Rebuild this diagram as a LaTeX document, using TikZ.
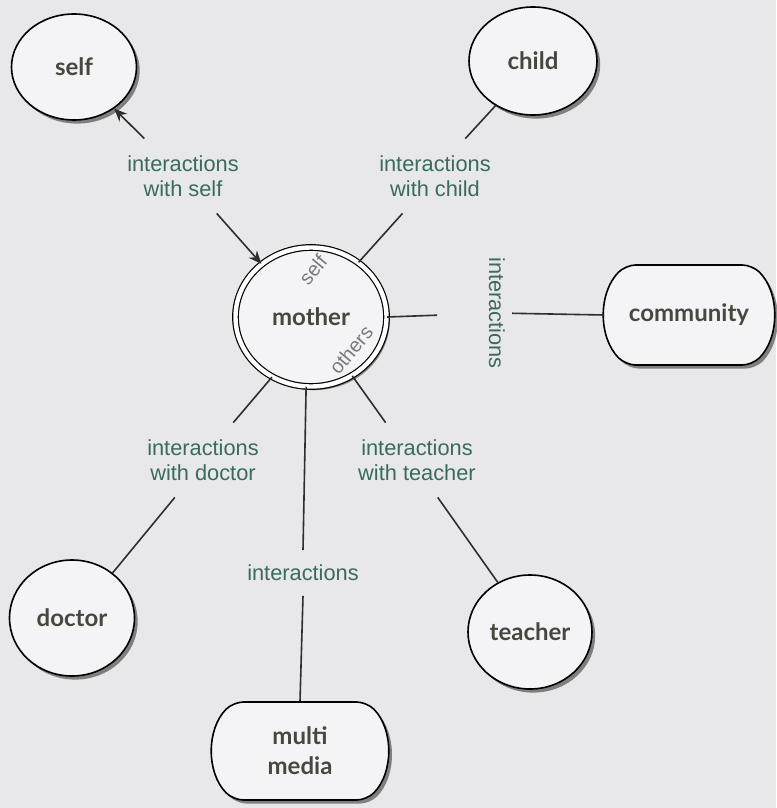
\documentclass[tikz,border=0pt]{standalone}
\usepackage{fontspec}
\setmainfont{Liberation Sans}
\newfontfamily\nodefont{Lato}
\newfontfamily\lblfont{Liberation Sans}
\usetikzlibrary{shapes.geometric,shapes.misc,shadows,arrows.meta}
\definecolor{bg}{HTML}{E8E8EA}
\definecolor{nodefill}{HTML}{F4F4F6}
\definecolor{lbl}{HTML}{3A6B5C}
\definecolor{ntext}{HTML}{46483F}
\definecolor{innertext}{HTML}{7A7A7A}
\definecolor{ln}{HTML}{2E2E2E}
\begin{document}
\begin{tikzpicture}[x=0.5pt,y=-0.5pt,
  shad/.style={drop shadow={shadow xshift=1.6pt,shadow yshift=-1.8pt,opacity=0.45,fill=black}},
  nfont/.style={font=\nodefont\bfseries\fontsize{12}{15}\selectfont,text=ntext},
  circ/.style={ellipse,draw=black,line width=0.8pt,fill=nodefill,shad,nfont,inner sep=0pt},
  box/.style={rounded rectangle,rounded rectangle arc length=90,rounded corners=5pt,draw=black,line width=0.8pt,fill=nodefill,shad,nfont,align=center,inner sep=0pt},
  lab/.style={font=\lblfont\fontsize{10.9}{12.5}\selectfont,text=lbl,align=center,inner sep=0pt},
  labtwo/.style={lab,minimum height=37pt,minimum width=62pt},
  intext/.style={font=\lblfont\fontsize{10}{12}\selectfont,text=innertext,rotate=50,inner sep=0pt},
  conn/.style={draw=ln,line width=0.8pt},
  arr/.style={conn,-{Stealth[length=6.5pt,width=5.5pt]}}
]
\fill[bg] (0,0) rectangle (776,808);
\useasboundingbox (0,0) rectangle (776,808);

% main nodes
\node[circ,minimum width=62.5pt,minimum height=53pt] (self) at (74,67) {self};
\node[circ,minimum width=64pt,minimum height=54pt] (child) at (533,61) {child};
\node[circ,minimum width=62.5pt,minimum height=58pt] (doctor) at (72,618) {doctor};
\node[circ,minimum width=62pt,minimum height=57pt] (teacher) at (530,632) {teacher};
\node[circ,double=white,double distance=2.2pt,line width=0.6pt,minimum width=75.5pt,minimum height=69.5pt] (mother) at (311,317) {mother};
\node[box,minimum width=84pt,minimum height=50pt] (community) at (689,315) {community};
\node[box,minimum width=87pt,minimum height=49pt] (media) at (300,751) {multi\\media};

% texts inside mother
\node[intext] (mself) at (313,270) {self};
\node[intext] (mothers) at (351,350) {others};

% labels
\node[labtwo] (Lself) at (183,176) {interactions\\with self};
\node[labtwo] (Lchild) at (435,176) {interactions\\with child};
\node[labtwo] (Ldoctor) at (203,460) {interactions\\with doctor};
\node[labtwo] (Lteacher) at (417,460) {interactions\\with teacher};
\node[lab,minimum height=22.5pt] (Lmedia) at (303,573) {interactions};
\node[lab,rotate=-90] (Lcomm) at (497,313) {interactions};

% connectors
\draw[arr] (Lself.136) -- (self.-46);
\draw[arr] (Lself.-48) -- (mother.133);
\draw[conn] (Lchild.51) -- (child.-130);
\draw[conn] (Lchild.-131) -- (mother.49);
\draw[conn,shorten >=30pt] (mother.east) -- (Lcomm.center);
\draw[conn,shorten <=7.5pt] (Lcomm.center) -- (community.west);
\draw[conn] (mother.-123) -- (Ldoctor.51);
\draw[conn] (Ldoctor.-127) -- (doctor.48);
\draw[conn] (mother.-55) -- (Lteacher.130);
\draw[conn] (Lteacher.-61) -- (teacher.123);
\draw[conn] (mother.-94) -- (Lmedia.north);
\draw[conn] (Lmedia.south) -- (media.north);
\end{tikzpicture}
\end{document}
